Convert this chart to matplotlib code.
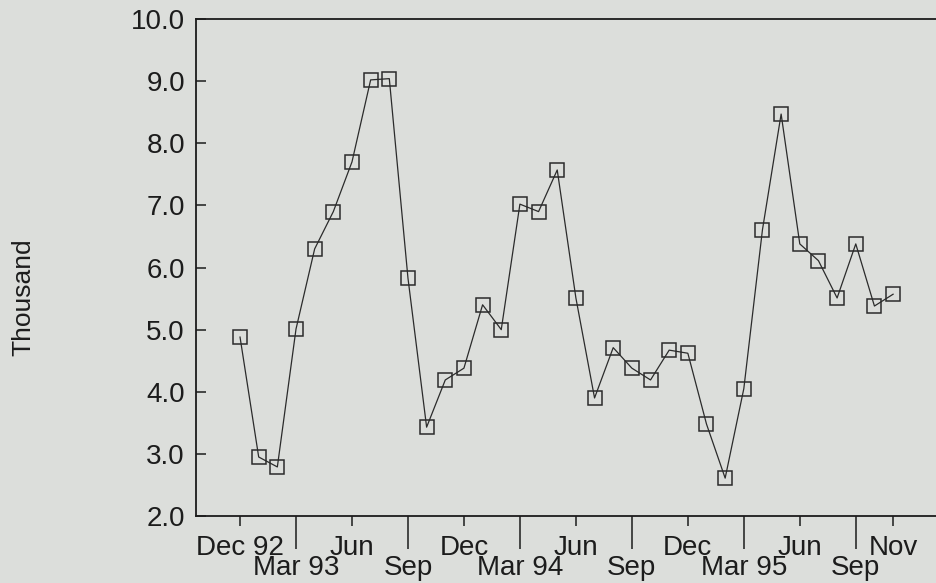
import matplotlib
matplotlib.use("Agg")
import matplotlib.pyplot as plt
import numpy as np

# monthly series, Dec 1992 - Nov 1995 (thousand)
months = ["Dec 92", "Jan 93", "Feb 93", "Mar 93", "Apr 93", "May 93",
          "Jun 93", "Jul 93", "Aug 93", "Sep 93", "Oct 93", "Nov 93",
          "Dec 93", "Jan 94", "Feb 94", "Mar 94", "Apr 94", "May 94",
          "Jun 94", "Jul 94", "Aug 94", "Sep 94", "Oct 94", "Nov 94",
          "Dec 94", "Jan 95", "Feb 95", "Mar 95", "Apr 95", "May 95",
          "Jun 95", "Jul 95", "Aug 95", "Sep 95", "Oct 95", "Nov 95"]
values = [4.88, 2.95, 2.79, 5.01, 6.30, 6.90,
          7.70, 9.02, 9.04, 5.83, 3.43, 4.19,
          4.38, 5.40, 5.00, 7.02, 6.90, 7.57,
          5.51, 3.90, 4.71, 4.38, 4.19, 4.67,
          4.62, 3.48, 2.61, 4.05, 6.61, 8.47,
          6.38, 6.11, 5.51, 6.38, 5.38, 5.57]

# labels on two rows under the axis
upper_months = ["Dec 92", "Jun 93", "Dec 93", "Jun 94", "Dec 94", "Jun 95", "Nov 95"]
upper_labels = ["Dec 92", "Jun", "Dec", "Jun", "Dec", "Jun", "Nov"]
lower_months = ["Mar 93", "Sep 93", "Mar 94", "Sep 94", "Mar 95", "Sep 95"]
lower_labels = ["Mar 93", "Sep", "Mar 94", "Sep", "Mar 95", "Sep"]

yticks = [2.0, 3.0, 4.0, 5.0, 6.0, 7.0, 8.0, 9.0, 10.0]

bg = "#dcdedb"
ink = "#1c1c1c"

plt.rcParams["font.family"] = ["Liberation Sans", "DejaVu Sans"]

fig = plt.figure(figsize=(9.36, 5.83), dpi=100, facecolor=bg)
ax = fig.add_axes([0.2094, 0.1149, 0.7906, 0.8525])
ax.set_facecolor(bg)

x = np.arange(len(months))
ax.plot(x, values, color="#2b2b2b", lw=0.9, marker="s", ms=9.5,
        mfc="none", mec="#2b2b2b", mew=1.1)

ax.set_xlim(-2.36, 37.3)
ax.set_ylim(2.0, 10.0)

ax.set_yticks(yticks)
ax.set_yticklabels([f"{v:.1f}" for v in yticks])
ax.tick_params(axis="y", direction="in", length=7, width=1.1, pad=8,
               labelsize=20, colors=ink)

ax.set_xticks([months.index(m) for m in lower_months])
ax.set_xticklabels(lower_labels)
ax.set_xticks([months.index(m) for m in upper_months], minor=True)
ax.set_xticklabels(upper_labels, minor=True)
ax.tick_params(axis="x", which="major", direction="out", length=24,
               width=1.1, pad=4, labelsize=20, colors=ink)
ax.tick_params(axis="x", which="minor", direction="out", length=7,
               width=1.1, pad=6.5, labelsize=20, colors=ink)

for side in ["left", "bottom", "top"]:
    ax.spines[side].set_color(ink)
    ax.spines[side].set_linewidth(1.3)
ax.spines["right"].set_visible(False)

fig.text(0.025, 0.49, "Thousand", rotation=90, ha="center", va="center",
         fontsize=19, color=ink)

fig.savefig("out.png", dpi=100, facecolor=bg)
